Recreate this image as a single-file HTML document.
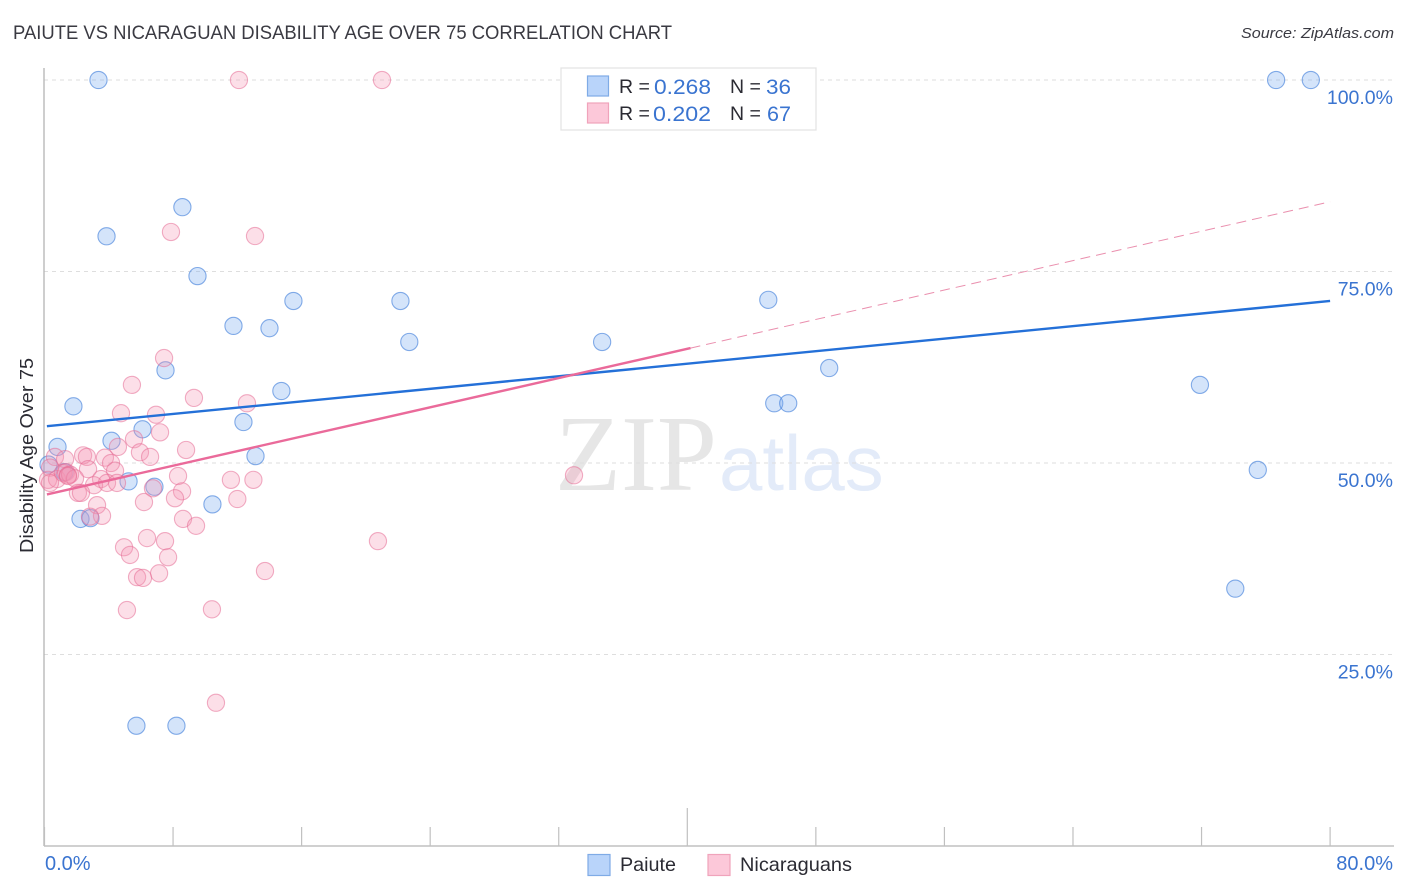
<!DOCTYPE html>
<html lang="en">
<head>
<meta charset="utf-8">
<title>Paiute vs Nicaraguan Disability Age Over 75 Correlation Chart</title>
<style>
html,body{margin:0;padding:0;background:#fff;width:1406px;height:892px;overflow:hidden}
svg{display:block;font-family:"Liberation Sans",sans-serif}
</style>
</head>
<body>
<svg id="chart" width="1406" height="892" viewBox="0 0 1406 892" xmlns="http://www.w3.org/2000/svg">
  <rect x="0" y="0" width="1406" height="892" fill="#fff"/>
  <text x="13" y="39" font-size="19" fill="#3a3a42" textLength="659" lengthAdjust="spacingAndGlyphs">PAIUTE VS NICARAGUAN DISABILITY AGE OVER 75 CORRELATION CHART</text>
  <text x="1394" y="38" font-size="15" font-style="italic" fill="#3a3a42" text-anchor="end" textLength="153" lengthAdjust="spacingAndGlyphs">Source: ZipAtlas.com</text>
  <g>
    <text x="555" y="490" font-family="'Liberation Serif',serif" font-size="108" fill="#e6e6e6">ZIP</text>
    <text x="719" y="490" font-size="78" fill="#e3ebf9">atlas</text>
  </g>
  <g id="grid"></g>
  <g id="axes"></g>
  <text transform="translate(33,553) rotate(-90)" font-size="18" fill="#2b2b33" textLength="195" lengthAdjust="spacingAndGlyphs">Disability Age Over 75</text>
  <g id="points"></g>
  <g id="trends"></g>

  <g>
    <rect x="561" y="68" width="255" height="62" fill="#fff" stroke="#e2e2e2" stroke-width="1.2"/>
    <rect x="587.5" y="76" width="21" height="20" fill="#b9d4fa" stroke="#7fabe6" stroke-width="1.2"/>
    <text x="619" y="93" font-size="19.5" fill="#2b2b33">R =</text>
    <text x="654" y="94" font-size="21" fill="#3a74d0" textLength="57" lengthAdjust="spacingAndGlyphs">0.268</text>
    <text x="730" y="93" font-size="19.5" fill="#2b2b33">N =</text>
    <text x="766" y="94" font-size="21" fill="#3a74d0" textLength="25" lengthAdjust="spacingAndGlyphs">36</text>
    <rect x="587.5" y="103" width="21" height="20" fill="#fcc8d9" stroke="#f0a3bb" stroke-width="1.2"/>
    <text x="619" y="120" font-size="19.5" fill="#2b2b33">R =</text>
    <text x="653" y="121" font-size="21" fill="#3a74d0" textLength="58" lengthAdjust="spacingAndGlyphs">0.202</text>
    <text x="730" y="120" font-size="19.5" fill="#2b2b33">N =</text>
    <text x="767" y="121" font-size="21" fill="#3a74d0" textLength="24" lengthAdjust="spacingAndGlyphs">67</text>
  </g>

  <g>
    <rect x="588" y="854.500" width="22" height="21" fill="#b9d4fa" stroke="#7fabe6" stroke-width="1.2"/>
    <text x="620" y="871" font-size="19.5" fill="#2b2b33" textLength="56" lengthAdjust="spacingAndGlyphs">Paiute</text>
    <rect x="708" y="854.500" width="22" height="21" fill="#fcc8d9" stroke="#f0a3bb" stroke-width="1.2"/>
    <text x="740" y="871" font-size="19.5" fill="#2b2b33" textLength="112" lengthAdjust="spacingAndGlyphs">Nicaraguans</text>
  </g>
</svg>
<script>
var paiuteX = [3.36,8.58,3.86,9.52,15.49,22.15,11.76,14.0,22.7,34.7,45.04,48.83,7.53,14.74,1.8,12.38,6.1,4.17,0.81,13.13,0.25,1.25,5.23,6.84,10.45,2.24,2.86,5.72,8.21,45.41,46.28,71.9,75.5,74.1,76.64,78.8];
var paiuteY = [100,83.4,79.6,74.4,71.15,71.15,67.9,67.6,65.8,65.8,71.3,62.4,62.1,59.4,57.4,55.35,54.4,52.9,52.1,50.9,49.8,48.8,47.6,46.9,44.6,42.7,42.8,15.7,15.7,57.8,57.8,60.2,49.1,33.6,100,100];
var nicaraguansX = [12.1,21.0,7.87,13.1,7.44,5.44,9.3,12.6,4.76,6.94,7.19,5.57,4.57,5.94,6.57,8.81,2.4,2.64,3.76,4.14,2.71,4.39,8.31,11.6,13.0,3.52,3.08,3.89,4.51,8.56,8.12,6.75,6.19,12.0,2.08,2.27,3.27,3.58,2.83,8.62,9.43,6.38,7.5,4.95,5.32,7.69,7.13,5.76,6.13,13.72,5.13,10.42,20.75,32.95,10.67,0.65,1.28,0.35,0.22,0.78,1.15,1.34,1.46,1.59,1.9,1.46,0.34];
var nicaraguansY = [100,100,80.16,79.63,63.7,60.2,58.5,57.8,56.5,56.3,54.0,53.1,52.1,51.4,50.8,51.7,51.0,50.8,50.7,50.0,49.2,49.0,48.3,47.8,47.8,47.9,47.1,47.4,47.4,46.3,45.4,46.7,44.9,45.3,46.1,46.1,44.5,43.1,43.0,42.7,41.8,40.2,39.8,39.0,38.0,37.7,35.6,35.1,35.0,35.9,30.8,30.9,39.8,48.4,18.7,50.8,50.5,49.4,47.8,47.9,48.7,48.8,48.4,48.5,48.0,48.3,47.4];
var paiuteTrendX = [0.15,80];
var paiuteTrendY = [54.8,71.15];
var nicaraguansTrendX = [0.15,40.2];
var nicaraguansTrendY = [45.9,65.0];
var nicaraguansDashX = [40.2,80];
var nicaraguansDashY = [65.0,84.1];
var yTickValues = [25,50,75,100];
var yTickLabels = ["25.0%","50.0%","75.0%","100.0%"];
var xTickValues = [0,8,16,24,32,40,48,56,64,72,80];
var xTallTick = 40;
var xEndValues = [0,80];
var xEndLabels = ["0.0%","80.0%"];

var NS = 'http://www.w3.org/2000/svg';
function xScale(v){ return 44.5 + v * 16.07; }
function yScale(v){ return 846 - v * 7.66; }
function make(tag, attrs, parent){
  var el = document.createElementNS(NS, tag);
  for (var k in attrs) el.setAttribute(k, attrs[k]);
  parent.appendChild(el);
  return el;
}
var gridG = document.getElementById('grid');
var axesG = document.getElementById('axes');
var pointsG = document.getElementById('points');
var trendsG = document.getElementById('trends');

yTickValues.forEach(function(v, i){
  var line = make('line', {x1:44, x2:1393, y1:yScale(v), y2:yScale(v), stroke:'#dedede', 'stroke-width':1, 'stroke-dasharray':'4 4'}, gridG);
  
  
  var label = make('text', {x:1393, y:yScale(v)+24, 'font-size':19.5, fill:'#3a74d0', 'text-anchor':'end'}, axesG);
  label.textContent = yTickLabels[i];
  
  
});

var yAxis = make('line', {x1:44, x2:44, y1:68, y2:846, stroke:'#b4b4b4', 'stroke-width':1.3}, axesG);


var xAxis = make('line', {x1:44, x2:1394, y1:846, y2:846, stroke:'#b4b4b4', 'stroke-width':1.3}, axesG);



xTickValues.forEach(function(v){
  var tick = make('line', {x1:xScale(v), x2:xScale(v), y1:v === xTallTick ? 808 : 827, y2:846, stroke:'#c0c0c0', 'stroke-width':1.2}, axesG);
  
  
});
xEndValues.forEach(function(v, i){
  var label = make('text', {x:i === 0 ? 45 : 1393, y:870, 'font-size':20, fill:'#3a74d0', 'text-anchor':i === 0 ? 'start' : 'end'}, axesG);
  label.textContent = xEndLabels[i];
  
  
});

paiuteX.forEach(function(v, i){
  var c = make('circle', {cx:xScale(v), cy:yScale(paiuteY[i]), r:8.6, fill:'rgba(120,170,240,0.32)', stroke:'rgba(70,130,220,0.65)', 'stroke-width':1.1}, pointsG);
  
  
});
nicaraguansX.forEach(function(v, i){
  var c = make('circle', {cx:xScale(v), cy:yScale(nicaraguansY[i]), r:8.6, fill:'rgba(245,150,180,0.3)', stroke:'rgba(230,110,150,0.55)', 'stroke-width':1.1}, pointsG);
  
  
});

var dash = make('line', {x1:xScale(nicaraguansDashX[0]), y1:yScale(nicaraguansDashY[0]), x2:xScale(nicaraguansDashX[1]), y2:yScale(nicaraguansDashY[1]), stroke:'#ea8fae', 'stroke-width':1, 'stroke-dasharray':'10 6'}, trendsG);


var blueLine = make('line', {x1:xScale(paiuteTrendX[0]), y1:yScale(paiuteTrendY[0]), x2:xScale(paiuteTrendX[1]), y2:yScale(paiuteTrendY[1]), stroke:'#2470d8', 'stroke-width':2.4}, trendsG);


var pinkLine = make('line', {x1:xScale(nicaraguansTrendX[0]), y1:yScale(nicaraguansTrendY[0]), x2:xScale(nicaraguansTrendX[1]), y2:yScale(nicaraguansTrendY[1]), stroke:'#ea6a9a', 'stroke-width':2.4}, trendsG);


</script>
</body>
</html>
